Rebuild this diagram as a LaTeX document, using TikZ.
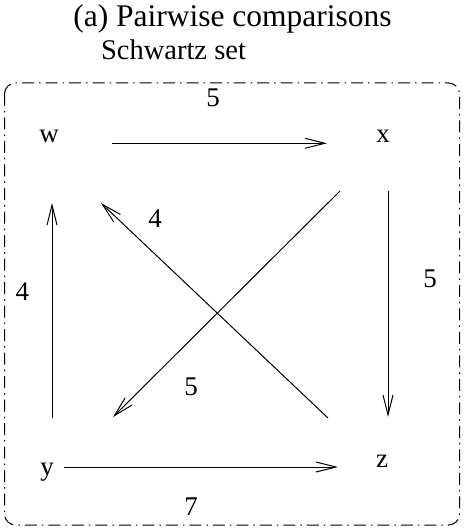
\documentclass[tikz,border=0pt]{standalone}
\usepackage{fontspec}
\setmainfont{Liberation Serif}
\usetikzlibrary{arrows.meta}
\begin{document}
\begin{tikzpicture}[x=1pt,y=-1pt,
  lbl/.style={anchor=base,inner sep=0pt,font=\fontsize{27}{30}\selectfont},
  vtx/.style={anchor=base,inner sep=0pt,font=\fontsize{27}{30}\selectfont},
  edge/.style={line width=1pt,-{Straight Barb[length=20pt,width=10pt,line width=1pt]}},
  frame/.style={line width=1pt,rounded corners=11pt,dash pattern=on 12pt off 5pt on 1.5pt off 5pt}]
\useasboundingbox (0,0) rectangle (463,529);
\node[anchor=base,inner sep=0pt,font=\fontsize{31.5}{36}\selectfont] (title) at (232.5,27) {(a) Pairwise comparisons};
\node[anchor=base,inner sep=0pt,font=\fontsize{28.5}{32}\selectfont] (schwartz) at (173.5,60) {Schwartz set};
\draw[frame] (4.5,83) rectangle (459.5,525);
\node[vtx] (w) at (49,143) {w};
\node[vtx] (x) at (383,143) {x};
\node[vtx] (y) at (47,475) {y};
\node[vtx] (z) at (382,467) {z};
% connector end points
\coordinate (wxs) at (112,143.3);
\coordinate (wxe) at (327,143.3);
\coordinate (xzs) at (388,191);
\coordinate (xze) at (388,417);
\coordinate (yws) at (52,418);
\coordinate (ywe) at (52,203);
\coordinate (zws) at (328,418);
\coordinate (zwe) at (101,203);
\coordinate (xys) at (340,191);
\coordinate (xye) at (113,417);
\coordinate (yzs) at (64,467);
\coordinate (yze) at (338,467);
\draw[edge] (wxs) -- (wxe);
\draw[edge] (xzs) -- (xze);
\draw[edge] (yws) -- (ywe);
\draw[edge] (zws) -- (zwe);
\draw[edge] (xys) -- (xye);
\draw[edge] (yzs) -- (yze);
\node[lbl] (lwx) at (213,107) {5};
\node[lbl] (lxz) at (430,287) {5};
\node[lbl] (lyw) at (22.5,300) {4};
\node[lbl] (lzw) at (155,227) {4};
\node[lbl] (lxy) at (191,395) {5};
\node[lbl] (lyz) at (191,515) {7};
\end{tikzpicture}
\end{document}
